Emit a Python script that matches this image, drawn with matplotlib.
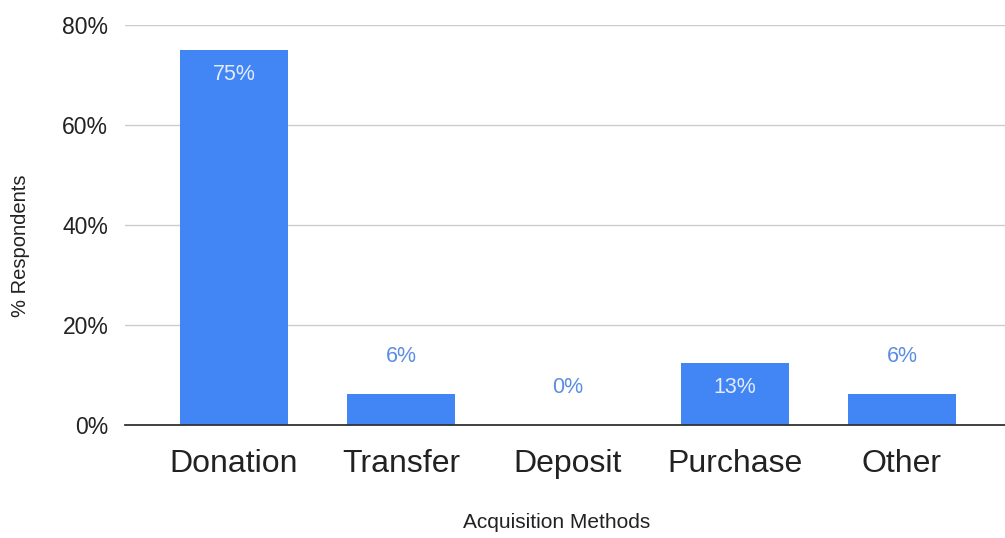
import matplotlib
matplotlib.use("Agg")
import matplotlib.pyplot as plt
from matplotlib.ticker import FuncFormatter

plt.rcParams["font.family"] = ["Liberation Sans", "DejaVu Sans"]

# data
methods = ["Donation", "Transfer", "Deposit", "Purchase", "Other"]
pct = [75, 6.25, 0, 12.5, 6.25]
pct_labels = ["75%", "6%", "0%", "13%", "6%"]

BAR = "#4285F4"
LABEL_OUT = "#5B8DE3"
LABEL_IN = "#E3ECFC"

fig = plt.figure(figsize=(10.05, 5.38), dpi=100)
ax = fig.add_axes([125 / 1005, 113 / 538, 880 / 1005, 400 / 538])

x = list(range(len(methods)))
ax.bar(x, pct, width=0.65, color=BAR, zorder=3)

for xi, v, lab in zip(x, pct, pct_labels):
    if v > 10:
        ax.annotate(lab, (xi, v), xytext=(0, -18), textcoords="offset points",
                    ha="center", va="center", fontsize=15.5, color=LABEL_IN, zorder=4)
    else:
        ax.annotate(lab, (xi, v), xytext=(0, 27), textcoords="offset points",
                    ha="center", va="center", fontsize=15.5, color=LABEL_OUT, zorder=4)

ax.set_xlim(-0.653, 4.617)
ax.set_ylim(0, 80)
ax.set_yticks([0, 20, 40, 60, 80])
ax.yaxis.set_major_formatter(FuncFormatter(lambda v, _: f"{v:.0f}%"))
ax.grid(axis="y", color="#CCCCCC", linewidth=1, zorder=0)
ax.set_xticks(x)
ax.set_xticklabels(methods, fontsize=23, color="#222222")
ax.tick_params(axis="y", length=0, pad=12, labelsize=16.5, labelcolor="#222222")
ax.tick_params(axis="x", length=0, pad=17)

for s in ["top", "right", "left"]:
    ax.spines[s].set_visible(False)
ax.spines["bottom"].set_color("#333333")
ax.spines["bottom"].set_linewidth(1.3)
ax.spines["bottom"].set_zorder(5)

fig.text(557 / 1005, 1 - 523 / 538, "Acquisition Methods", ha="center", va="center",
         fontsize=15, color="#222222")
fig.text(20 / 1005, 1 - 246 / 538, "% Respondents", ha="center", va="center",
         rotation=90, fontsize=14.5, color="#222222")

fig.savefig("out.png", dpi=100, facecolor="white")
